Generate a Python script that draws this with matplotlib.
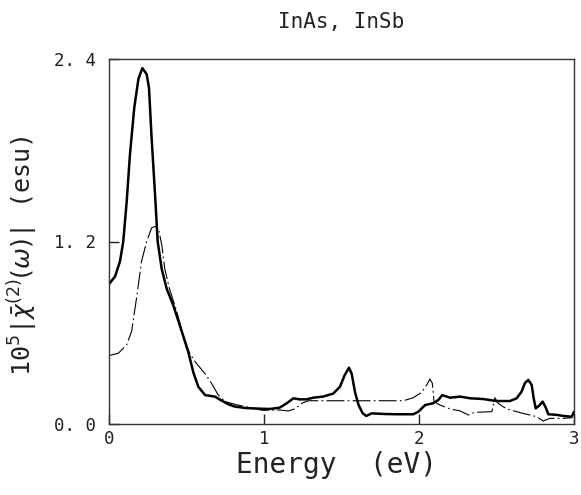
import matplotlib
matplotlib.use("Agg")
import matplotlib.pyplot as plt

# InAs (solid, thick)
inas_energy = [0.000, 0.039, 0.071, 0.092, 0.114, 0.135, 0.163, 0.190, 0.215, 0.243,
               0.258, 0.275, 0.297, 0.314, 0.340, 0.372, 0.415, 0.469, 0.510, 0.544,
               0.576, 0.620, 0.684, 0.716, 0.770, 0.810, 0.880, 0.990, 1.039, 1.100,
               1.146, 1.190, 1.230, 1.275, 1.318, 1.380, 1.447, 1.490, 1.520, 1.548,
               1.566, 1.587, 1.610, 1.637, 1.660, 1.695, 1.770, 1.856, 1.963, 1.996,
               2.040, 2.090, 2.125, 2.150, 2.200, 2.265, 2.330, 2.415, 2.500, 2.587,
               2.630, 2.660, 2.684, 2.705, 2.727, 2.740, 2.753, 2.774, 2.798, 2.820,
               2.834, 2.890, 2.930, 2.985, 3.000]
inas_chi = [0.92, 0.97, 1.07, 1.20, 1.46, 1.77, 2.08, 2.27, 2.34, 2.30,
            2.21, 1.88, 1.51, 1.20, 1.02, 0.89, 0.78, 0.61, 0.48, 0.34,
            0.245, 0.19, 0.18, 0.16, 0.13, 0.115, 0.105, 0.10, 0.099, 0.107,
            0.136, 0.169, 0.162, 0.162, 0.173, 0.18, 0.20, 0.245, 0.32, 0.37,
            0.33, 0.21, 0.125, 0.07, 0.053, 0.07, 0.066, 0.064, 0.064, 0.081,
            0.125, 0.136, 0.158, 0.19, 0.173, 0.18, 0.169, 0.164, 0.151, 0.151,
            0.169, 0.21, 0.27, 0.29, 0.257, 0.169, 0.103, 0.12, 0.147, 0.103,
            0.064, 0.06, 0.053, 0.048, 0.08]

# InSb (dash-dot, thin)
insb_energy = [0.000, 0.060, 0.114, 0.146, 0.178, 0.210, 0.243, 0.275, 0.300, 0.320,
               0.340, 0.360, 0.390, 0.437, 0.500, 0.555, 0.620, 0.660, 0.705, 0.750,
               0.830, 0.990, 1.100, 1.157, 1.200, 1.243, 1.286, 1.600, 1.900, 1.963,
               2.017, 2.050, 2.070, 2.086, 2.097, 2.135, 2.200, 2.265, 2.320, 2.360,
               2.470, 2.490, 2.510, 2.566, 2.670, 2.760, 2.800, 2.845, 2.930, 2.985, 3.000]
insb_chi = [0.45, 0.465, 0.52, 0.61, 0.83, 1.07, 1.20, 1.29, 1.30, 1.28,
            1.18, 1.02, 0.89, 0.74, 0.50, 0.41, 0.33, 0.27, 0.19, 0.147,
            0.125, 0.09, 0.092, 0.086, 0.10, 0.136, 0.153, 0.153, 0.153, 0.173,
            0.208, 0.257, 0.296, 0.268, 0.147, 0.125, 0.099, 0.086, 0.059, 0.077,
            0.081, 0.173, 0.136, 0.099, 0.07, 0.048, 0.02, 0.037, 0.037, 0.041, 0.08]

x_ticks = [0, 1, 2, 3]
x_tick_labels = ["0", "1", "2", "3"]
y_ticks = [0.0, 1.2, 2.4]
y_tick_labels = ["0. 0", "1. 2", "2. 4"]

title_text = "InAs, InSb"
x_label = "Energy  (eV)"
y_label = r"10$^{5}$|$\bar{\chi}^{(2)}(\omega)$| (esu)"

plt.rcParams["font.family"] = ["DejaVu Sans Mono", "DejaVu Sans"]
plt.rcParams["mathtext.fontset"] = "dejavusans"

fig = plt.figure(figsize=(5.81, 4.95), dpi=100)
ax = fig.add_axes([109 / 581, 1 - 424 / 495, 465 / 581, 365 / 495])

ax.plot(inas_energy, inas_chi, color="black", lw=1.8,
        solid_joinstyle="round", solid_capstyle="round")
ax.plot(insb_energy, insb_chi, color="black", lw=0.8, dashes=(16, 3, 1.5, 3))

ax.set_xlim(0, 3)
ax.set_ylim(0, 2.4)
ax.set_xticks(x_ticks)
ax.set_xticklabels(x_tick_labels)
ax.set_yticks(y_ticks)
ax.set_yticklabels(y_tick_labels)
ax.tick_params(direction="in", length=7, width=1.0, labelsize=12.5, colors="#222222")
ax.tick_params(axis="y", pad=9)
ax.tick_params(axis="x", pad=4)
for s in ax.spines.values():
    s.set_linewidth(1.0)
    s.set_color("#333333")

ax.set_title(title_text, fontsize=15, pad=22, color="#222222")
ax.set_xlabel(x_label, fontsize=20, color="#222222")
ax.xaxis.set_label_coords(0.49, -0.112)
ax.xaxis.label.set_va("center")
ax.set_ylabel(y_label, fontsize=18, color="#222222")
ax.yaxis.set_label_coords(-0.185, 0.46)
ax.yaxis.label.set_va("center")

fig.savefig("out.png", dpi=100)
